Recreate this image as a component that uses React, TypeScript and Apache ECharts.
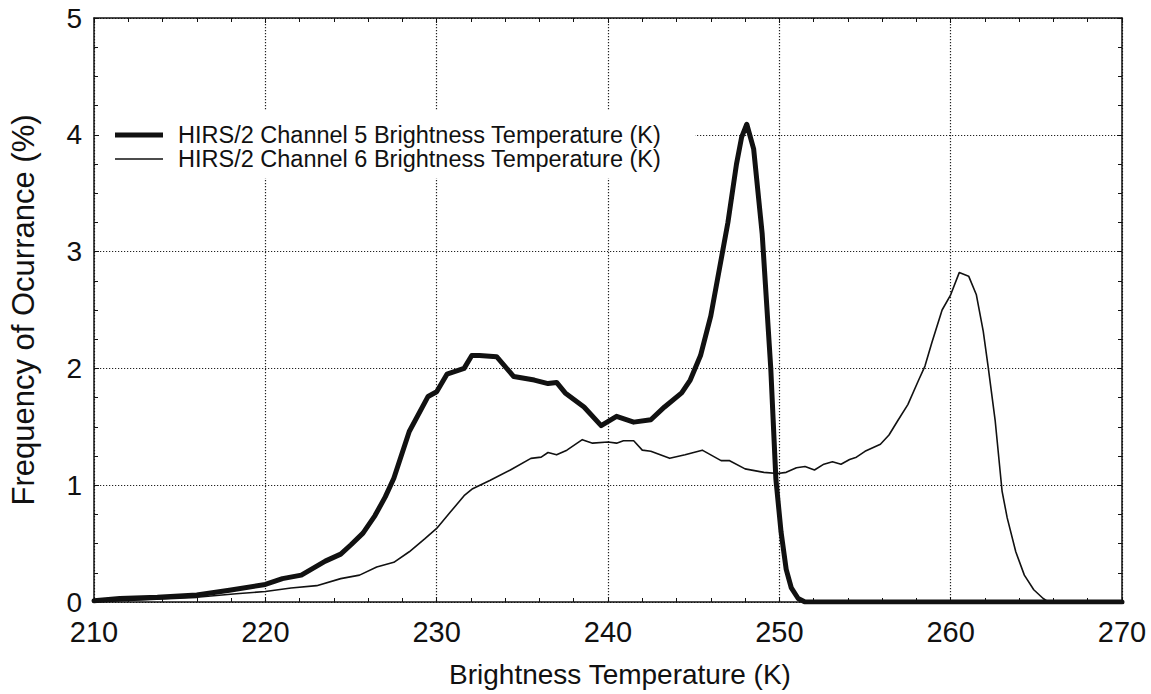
import React, { useEffect, useRef } from "react";
import * as echarts from "echarts";

// Channel 5 (thick line)
const ch5X = [210, 211.5, 213.7, 216.0, 217.9, 220.0, 221.0, 222.1, 223.5, 224.4, 225.0, 225.7, 226.4, 227.0, 227.5, 228.4, 229.5, 230.0, 230.6, 231.6, 232.05, 232.5, 233.5, 234.5, 235.7, 236.5, 237.0, 237.5, 238.6, 239.6, 240.5, 241.5, 242.5, 243.3, 244.3, 244.8, 245.4, 246.0, 246.5, 247.0, 247.5, 247.8, 248.1, 248.5, 249.0, 249.5, 249.8, 250.1, 250.4, 250.7, 251.1, 251.5, 270];
const ch5Y = [0.01, 0.03, 0.04, 0.06, 0.10, 0.15, 0.20, 0.23, 0.35, 0.41, 0.49, 0.59, 0.74, 0.90, 1.06, 1.46, 1.76, 1.80, 1.95, 2.00, 2.11, 2.11, 2.10, 1.93, 1.90, 1.87, 1.88, 1.79, 1.67, 1.51, 1.59, 1.54, 1.56, 1.67, 1.79, 1.90, 2.11, 2.45, 2.85, 3.25, 3.75, 3.98, 4.09, 3.88, 3.15, 2.0, 1.05, 0.6, 0.28, 0.12, 0.03, 0, 0];

// Channel 6 (thin line)
const ch6X = [210, 216, 218.3, 220, 221.5, 223.0, 224.4, 225.5, 226.5, 227.5, 228.4, 229.3, 230.0, 230.8, 231.6, 232.1, 233.1, 234.3, 235.5, 236.1, 236.5, 237.0, 237.6, 238.5, 239.1, 240.0, 240.5, 240.9, 241.5, 242.0, 242.5, 243.6, 244.5, 245.5, 246.6, 247.1, 248.0, 249.1, 249.9, 250.4, 251.0, 251.5, 252.05, 252.6, 253.1, 253.6, 254.1, 254.5, 255.0, 255.9, 256.4, 256.9, 257.5, 258.1, 258.5, 258.9, 259.5, 260.0, 260.5, 261.05, 261.5, 261.9, 262.2, 262.6, 263.0, 263.3, 263.8, 264.3, 264.85, 265.4, 265.7, 270];
const ch6Y = [0, 0.04, 0.07, 0.09, 0.12, 0.14, 0.20, 0.23, 0.30, 0.34, 0.43, 0.54, 0.63, 0.77, 0.91, 0.97, 1.04, 1.13, 1.23, 1.24, 1.28, 1.26, 1.30, 1.39, 1.36, 1.37, 1.36, 1.38, 1.38, 1.30, 1.29, 1.23, 1.26, 1.30, 1.21, 1.21, 1.14, 1.11, 1.10, 1.11, 1.15, 1.16, 1.13, 1.18, 1.20, 1.18, 1.22, 1.24, 1.29, 1.35, 1.43, 1.55, 1.69, 1.89, 2.02, 2.22, 2.50, 2.63, 2.82, 2.79, 2.63, 2.32, 2.0, 1.55, 0.95, 0.72, 0.43, 0.23, 0.105, 0.03, 0, 0];

const seriesNames = [
  "HIRS/2 Channel 5 Brightness Temperature (K)",
  "HIRS/2 Channel 6 Brightness Temperature (K)",
];
const seriesWidths = [5, 1.6];
const xTitle = "Brightness Temperature (K)";
const yTitle = "Frequency of Ocurrance (%)";

const FONT = "'Liberation Sans', Arial, Helvetica, sans-serif";
const INK = "#111";

function zip(xs: number[], ys: number[]) {
  return xs.map((x, i) => [x, ys[i]]);
}

export default function App() {
  const ref = useRef<HTMLDivElement>(null);
  useEffect(() => {
    document.body.style.margin = "0";
    if (!ref.current) return;
    const chart = echarts.init(ref.current, undefined, { renderer: "svg" });
    const gridDots = { color: "#222", width: 1.2, type: [1.2, 1.8] as any };
    const baseX = {
      type: "value" as const,
      min: 210,
      max: 270,
      interval: 10,
      axisLine: { show: true, onZero: false, lineStyle: { color: INK, width: 1.5 } },
      axisTick: { show: true, inside: true, length: 5, lineStyle: { color: INK, width: 1 } },
      minorTick: { show: true, splitNumber: 5, length: 4, lineStyle: { color: INK, width: 1 } },
    };
    const baseY = {
      type: "value" as const,
      min: 0,
      max: 5,
      interval: 1,
      axisLine: { show: true, onZero: false, lineStyle: { color: INK, width: 1.5 } },
      axisTick: { show: true, inside: true, length: 5, lineStyle: { color: INK, width: 1 } },
      minorTick: { show: true, splitNumber: 4, length: 4, lineStyle: { color: INK, width: 1 } },
    };

    // legend drawn as graphic
    const legendItems: any[] = [
      { type: "rect", shape: { x: 100, y: 110, width: 595, height: 68 }, style: { fill: "#fff" }, z: 10 },
    ];
    seriesNames.forEach((name, i) => {
      const cy = 135 + i * 24;
      legendItems.push({
        type: "line",
        shape: { x1: 115, y1: cy, x2: 163, y2: cy },
        style: { stroke: INK, lineWidth: seriesWidths[i] },
        z: 11,
      });
      legendItems.push({
        type: "text",
        x: 178,
        y: cy,
        style: {
          text: name,
          fontSize: 23.5,
          lineHeight: 21,
          fontFamily: FONT,
          fill: INK,
          verticalAlign: "middle",
          align: "left",
        },
        z: 11,
      });
    });

    chart.setOption({
      animation: false,
      backgroundColor: "#fff",
      textStyle: { fontFamily: FONT },
      grid: { left: 88, right: 29, top: 18, bottom: 92, containLabel: false },
      xAxis: [
        {
          ...baseX,
          position: "bottom",
          name: xTitle,
          nameLocation: "middle",
          nameGap: 58,
          nameTextStyle: { fontSize: 28, color: INK, fontFamily: FONT, padding: [0, 0, 0, 24] },
          axisLabel: { show: true, margin: 19, fontSize: 29, lineHeight: 22, color: INK, fontFamily: FONT },
          splitLine: { show: true, lineStyle: gridDots },
        },
        {
          ...baseX,
          position: "top",
          axisLabel: { show: false },
          splitLine: { show: false },
        },
      ],
      yAxis: [
        {
          ...baseY,
          position: "left",
          name: yTitle,
          nameLocation: "middle",
          nameGap: 55,
          nameTextStyle: { fontSize: 31, color: INK, fontFamily: FONT },
          axisLabel: { show: true, margin: 12, fontSize: 28, lineHeight: 22, color: INK, fontFamily: FONT },
          splitLine: { show: true, lineStyle: gridDots },
        },
        {
          ...baseY,
          position: "right",
          axisLabel: { show: false },
          splitLine: { show: false },
        },
      ],
      graphic: legendItems,
      series: [
        {
          name: seriesNames[1],
          type: "line",
          xAxisIndex: 0,
          yAxisIndex: 0,
          data: zip(ch6X, ch6Y),
          symbol: "none",
          showSymbol: false,
          lineStyle: { color: INK, width: seriesWidths[1], join: "round" },
          itemStyle: { color: INK },
          z: 3,
        },
        {
          name: seriesNames[0],
          type: "line",
          xAxisIndex: 0,
          yAxisIndex: 0,
          data: zip(ch5X, ch5Y),
          symbol: "none",
          showSymbol: false,
          lineStyle: { color: INK, width: seriesWidths[0], join: "round", cap: "round" },
          itemStyle: { color: INK },
          z: 4,
        },
      ],
    });
    return () => chart.dispose();
  }, []);
  return <div ref={ref} style={{ width: 1151, height: 694 }} />;
}
